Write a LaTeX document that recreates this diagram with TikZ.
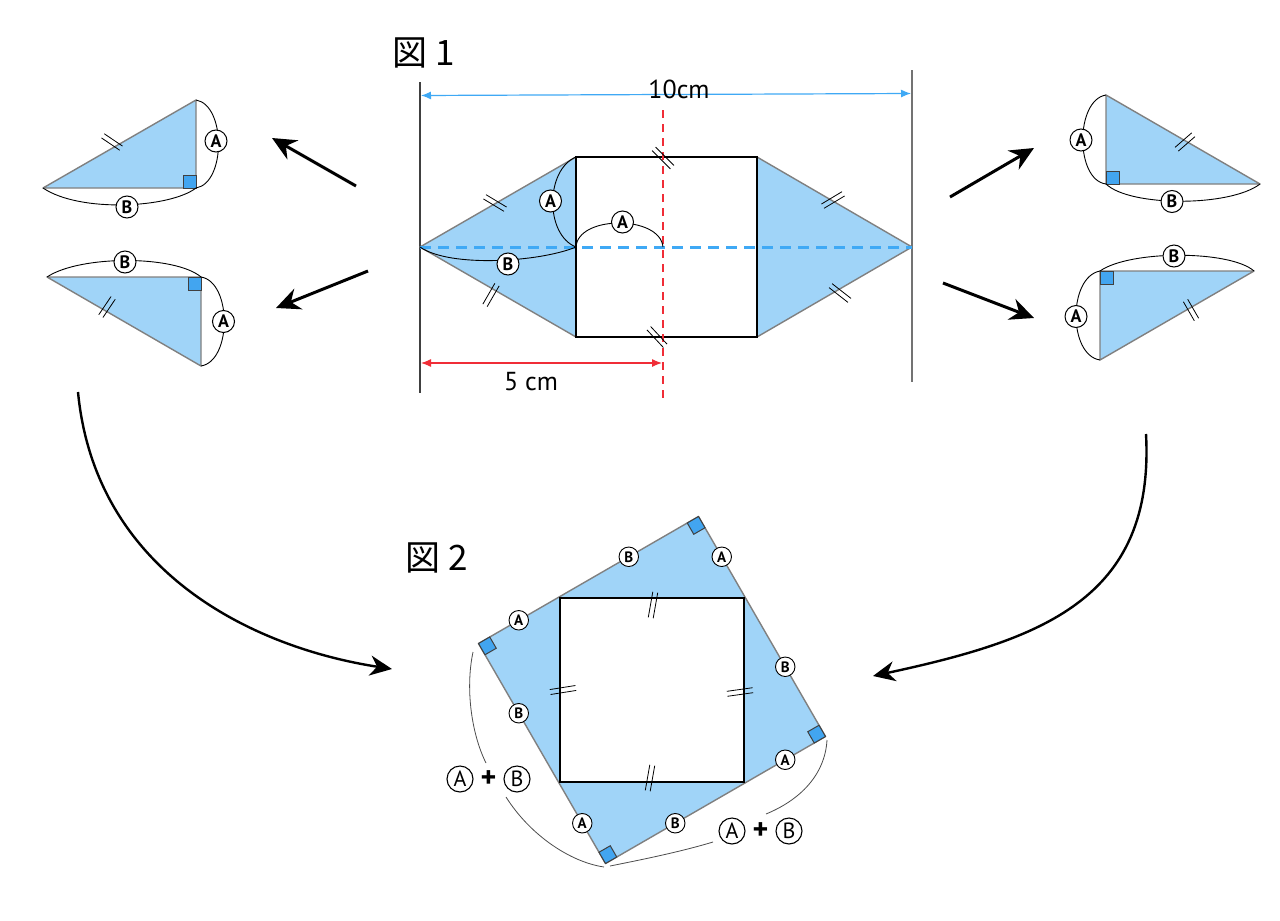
\documentclass[tikz,border=0pt]{standalone}
\usepackage{fontspec}
\setmainfont{PT Sans}
\setsansfont{PT Sans}
\newfontfamily\cjk{Noto Sans CJK JP}
\usetikzlibrary{arrows.meta,calc}
\definecolor{fillblue}{RGB}{160,212,248}
\definecolor{dashblue}{RGB}{63,169,245}
\definecolor{markblue}{RGB}{66,165,240}
\definecolor{redline}{RGB}{240,45,55}
\definecolor{edgegray}{RGB}{128,128,128}
\newcommand{\tickpair}[4][11]{%
  \begin{scope}[shift={(#2,#3)},rotate=-#4]
    \draw[tickst] (-#1,-2.5)--(#1,-2.5) (-#1,2.5)--(#1,2.5);
  \end{scope}}
\newcommand{\rmk}[3]{%
  \coordinate (m1) at ($(#1)!13pt!(#2)$);
  \coordinate (m2) at ($(#1)!13pt!(#3)$);
  \draw[rmark] (#1)--(m1)--($(m1)+(m2)-(#1)$)--(m2)--cycle;}
\begin{document}
\begin{tikzpicture}[x=1pt,y=-1pt,
  tri/.style={fill=fillblue,draw=edgegray,line width=1.4pt,line join=round},
  sqbox/.style={fill=white,draw=black,line width=2pt},
  brace/.style={draw=black,line width=0.9pt},
  thinbrace/.style={draw=black!70,line width=0.8pt},
  circA/.style={circle,draw=black,fill=white,line width=1pt,inner sep=0pt,minimum size=22pt,font=\fontsize{18}{18}\selectfont\bfseries},
  circS/.style={circle,draw=black,fill=white,line width=0.9pt,inner sep=0pt,minimum size=19.5pt,font=\fontsize{15}{15}\selectfont\bfseries},
  circL/.style={circle,draw=black,fill=white,line width=1.1pt,inner sep=0pt,minimum size=26pt,font=\fontsize{22}{22}\selectfont},
  plus/.style={font=\fontsize{30}{30}\selectfont\bfseries,inner sep=0pt},
  tickst/.style={draw=black,line width=0.8pt},
  rmark/.style={fill=markblue,draw=black!75,line width=1pt},
  bigarrow/.style={line width=3pt,-{Stealth[length=24pt,width=22pt,inset=8pt]}},
  curvearrow/.style={line width=2.4pt,-{Stealth[length=22pt,width=20pt,inset=7pt]}},
  dimblue/.style={draw=dashblue,line width=1.2pt,{Latex[length=10pt,width=8pt]}-{Latex[length=10pt,width=8pt]}},
  dimred/.style={draw=redline,line width=1.2pt,{Latex[length=10pt,width=8pt]}-{Latex[length=10pt,width=8pt]}},
  dimtext/.style={font=\fontsize{26}{26}\selectfont,inner sep=0pt},
  title/.style={font=\cjk\fontsize{35}{35}\selectfont,inner sep=0pt,anchor=west}
]
\useasboundingbox (0,0) rectangle (1280,921);
\fill[white] (0,0) rectangle (1280,921);

% ---------------- Figure 1 ----------------
\node[title] (t1) at (392,53) {図 1};
\coordinate (vl1) at (420,82); \coordinate (vl2) at (420,393);
\coordinate (vr1) at (912,70); \coordinate (vr2) at (912,382);
\draw[black!75,line width=1.5pt] (vl1)--(vl2);
\draw[black!55,line width=2.5pt] (vr1)--(vr2);

\coordinate (apL) at (420,247);
\coordinate (sTL) at (576,157); \coordinate (sBL) at (576,337);
\coordinate (sTR) at (757,157); \coordinate (sBR) at (757,337);
\coordinate (apR) at (912,247);
\draw[tri] (apL)--(sTL)--(sBL)--cycle;
\draw[tri] (apR)--(sTR)--(sBR)--cycle;
\draw[sqbox] (sTL) rectangle (sBR);

\coordinate (db1) at (421,95.5); \coordinate (db2) at (911,93.5);
\draw[dimblue] (db1)--(db2);
\node[dimtext] (ten) at (679,89) {10cm};

\draw[dashblue,line width=3pt,dash pattern=on 11pt off 7pt] (apL)--(apR);
\coordinate (rd1) at (663,110); \coordinate (rd2) at (663,400);
\draw[redline,line width=2.6pt,dash pattern=on 8pt off 6pt] (rd1)--(rd2);
\coordinate (dr1) at (421,363); \coordinate (dr2) at (662,363);
\draw[dimred] (dr1)--(dr2);
\node[dimtext] (five) at (531,382) {5 cm};

\coordinate (mid) at (576,247); \coordinate (cen) at (663,247);
\draw[brace] (sTL) .. controls (545,170) and (545,235) .. (mid);
\draw[brace] (mid) .. controls (578,215) and (660,215) .. (cen);
\draw[brace] (apL) .. controls (450,268) and (540,262) .. (mid);
\node[circA] (f1a) at (550.5,201) {A};
\node[circA] (f1a2) at (622.5,222) {A};
\node[circA] (f1b) at (508,264) {B};

\tickpair[13]{663}{158}{45}
\tickpair[12]{657}{337}{47}
\tickpair[12]{495}{203}{31}
\tickpair[12]{491}{295}{-60}
\tickpair[12]{833}{200}{-31}
\tickpair[12]{840}{293}{38}

% ---------------- small triangles left ----------------
\coordinate (p1) at (43,188); \coordinate (p2) at (196,100); \coordinate (p3) at (196,188);
\draw[tri] (p1)--(p2)--(p3)--cycle;
\rmk{p3}{p1}{p2}
\draw[brace] (p2) .. controls (226,105) and (226,183) .. (p3);
\draw[brace] (p1) .. controls (80,213) and (170,208) .. (p3);
\node[circA] (ta) at (216,141) {A};
\node[circA] (tb) at (127,207) {B};
\tickpair{112}{142}{34}

\coordinate (q1) at (47,277); \coordinate (q2) at (201,277); \coordinate (q3) at (201,366);
\draw[tri] (q1)--(q2)--(q3)--cycle;
\rmk{q2}{q1}{q3}
\draw[brace] (q1) .. controls (80,255) and (175,255) .. (q2);
\draw[brace] (q2) .. controls (232,282) and (232,361) .. (q3);
\node[circA] (ua) at (223.5,321.5) {A};
\node[circA] (ub) at (125,262) {B};
\tickpair{107}{307}{-56}

% ---------------- small triangles right ----------------
\coordinate (r1) at (1106,95); \coordinate (r2) at (1106,184); \coordinate (r3) at (1260,184);
\draw[tri] (r1)--(r2)--(r3)--cycle;
\rmk{r2}{r1}{r3}
\draw[brace] (r1) .. controls (1075,100) and (1075,180) .. (r2);
\draw[brace] (r2) .. controls (1130,207) and (1230,207) .. (r3);
\node[circA] (va) at (1081,140) {A};
\node[circA] (vb) at (1172,201.5) {B};
\tickpair{1185}{142}{-41}

\coordinate (s1) at (1100,271); \coordinate (s2) at (1254,271); \coordinate (s3) at (1100,360);
\draw[tri] (s1)--(s2)--(s3)--cycle;
\rmk{s1}{s2}{s3}
\draw[brace] (s1) .. controls (1130,250) and (1230,250) .. (s2);
\draw[brace] (s1) .. controls (1068,277) and (1068,355) .. (s3);
\node[circA] (wa) at (1076,316.5) {A};
\node[circA] (wb) at (1174,256) {B};
\tickpair{1191}{310}{60}

% ---------------- arrows ----------------
\coordinate (a1s) at (356,186); \coordinate (a1e) at (272,138);
\coordinate (a2s) at (368,271); \coordinate (a2e) at (276,308);
\coordinate (a3s) at (950,197); \coordinate (a3e) at (1034,148);
\coordinate (a4s) at (943,283); \coordinate (a4e) at (1034,318);
\draw[bigarrow] (a1s)--(a1e);
\draw[bigarrow] (a2s)--(a2e);
\draw[bigarrow] (a3s)--(a3e);
\draw[bigarrow] (a4s)--(a4e);
\coordinate (c1s) at (78,392); \coordinate (c1e) at (392,669);
\coordinate (c2s) at (1146,434); \coordinate (c2e) at (873,676);
\draw[curvearrow] (c1s) .. controls (95,570) and (250,647) .. (c1e);
\draw[curvearrow] (c2s) .. controls (1155,600) and (1040,640) .. (c2e);

% ---------------- Figure 2 ----------------
\node[title] (t2) at (405,558) {図 2};
\coordinate (T) at (698.5,516.5);
\coordinate (R) at (825.5,736.5);
\coordinate (Bc) at (605.5,863.5);
\coordinate (Lc) at (478.5,643.5);
\draw[tri] (Lc)--(T)--(R)--(Bc)--cycle;
\coordinate (iTL) at (560,598); \coordinate (iBR) at (744,782);
\draw[sqbox] (iTL) rectangle (iBR);
\rmk{T}{Lc}{R}
\rmk{R}{T}{Bc}
\rmk{Bc}{R}{Lc}
\rmk{Lc}{Bc}{T}

\tickpair[13]{653}{605}{100}
\tickpair[13]{650}{778}{100}
\tickpair[13]{563}{690}{-9}
\tickpair[13]{740}{692}{-8}

\node[circS] (e1a) at ($(Lc)!0.183!(T)$) {A};
\node[circS] (e1b) at ($(Lc)!0.683!(T)$) {B};
\node[circS] (e2a) at ($(T)!0.183!(R)$) {A};
\node[circS] (e2b) at ($(T)!0.683!(R)$) {B};
\node[circS] (e3a) at ($(R)!0.183!(Bc)$) {A};
\node[circS] (e3b) at ($(R)!0.683!(Bc)$) {B};
\node[circS] (e4a) at ($(Bc)!0.183!(Lc)$) {A};
\node[circS] (e4b) at ($(Bc)!0.683!(Lc)$) {B};

\node[circL] (la) at (460,779) {A};
\node[plus] (lp) at (488.5,779) {+};
\node[circL] (lb) at (517,779) {B};
\node[circL] (ra) at (732,831) {A};
\node[plus] (rp) at (760.5,831) {+};
\node[circL] (rb) at (789,831) {B};

\coordinate (bl1) at (473,652); \coordinate (bl2) at (486,763);
\coordinate (bl3) at (506,797); \coordinate (bl4) at (604,867);
\coordinate (br1) at (827,740); \coordinate (br2) at (766,814);
\coordinate (br3) at (713,842); \coordinate (br4) at (610,866);
\draw[thinbrace] (bl1) .. controls (465,690) and (472,735) .. (bl2);
\draw[thinbrace] (bl3) .. controls (530,835) and (570,862) .. (bl4);
\draw[thinbrace] (br1) .. controls (825,775) and (800,800) .. (br2);
\draw[thinbrace] (br3) .. controls (680,852) and (640,860) .. (br4);
\end{tikzpicture}
\end{document}
